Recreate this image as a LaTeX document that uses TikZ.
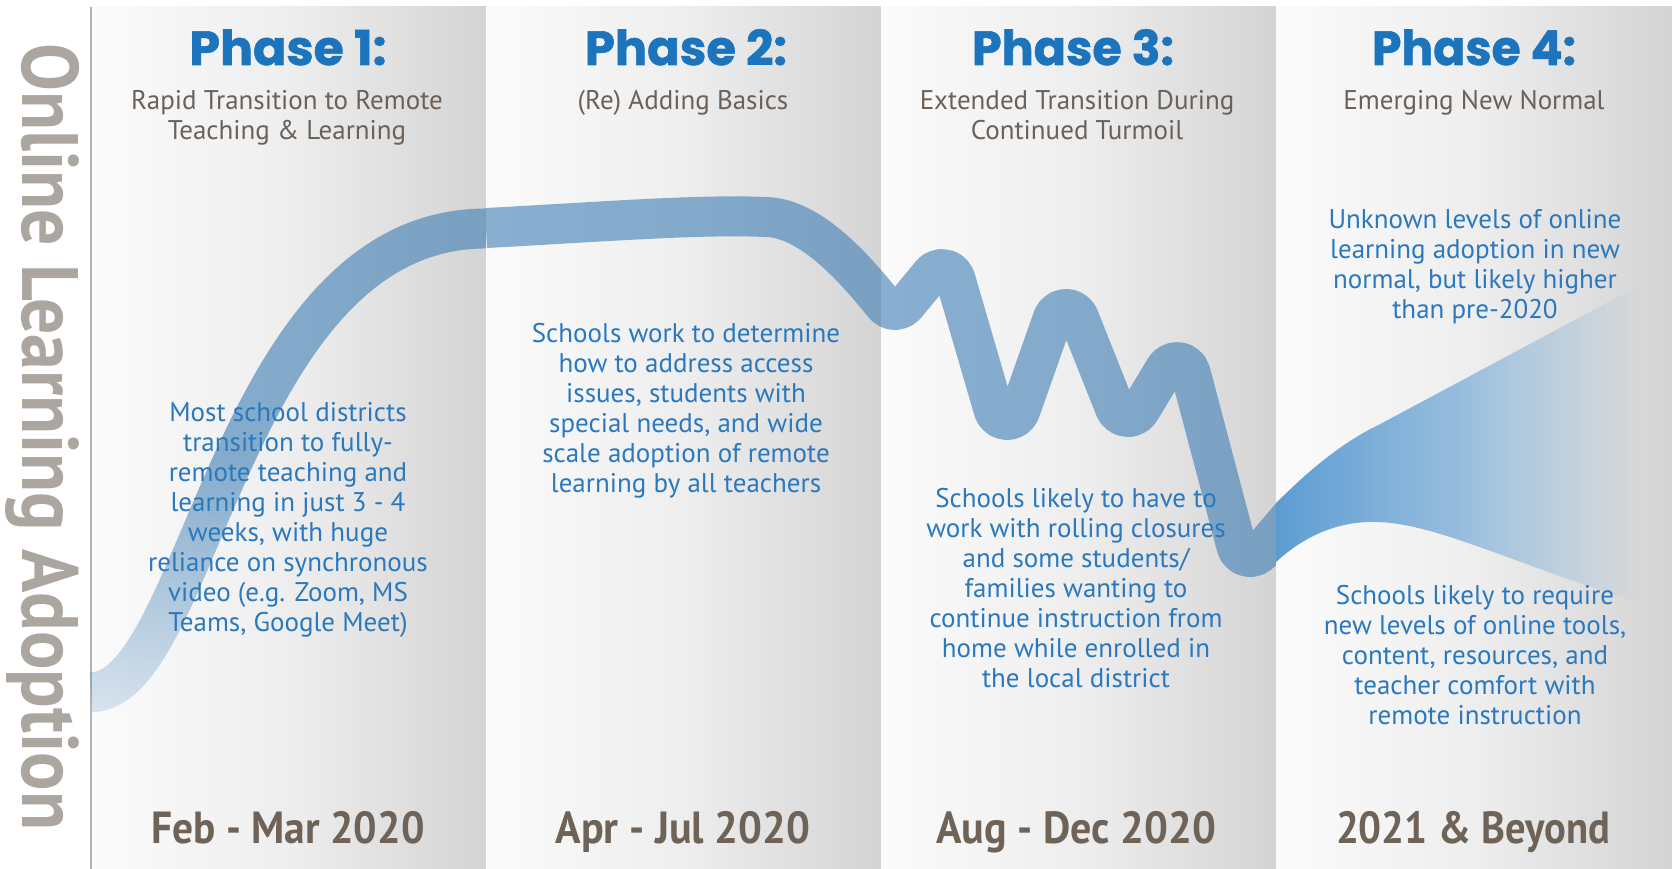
\documentclass[tikz,border=0pt]{standalone}
\usepackage{fontspec}
\usepackage{graphicx}
\usetikzlibrary{fadings}
\setmainfont{PT Sans}
\newfontfamily\headfont[BoldFeatures={FakeBold=1.2}]{Poppins}
\definecolor{headblue}{HTML}{1C74BC}
\definecolor{bodyblue}{HTML}{2A78BE}
\definecolor{subgray}{HTML}{6B6159}
\definecolor{dategray}{HTML}{6F6358}
\definecolor{vgray}{HTML}{ABA69F}
\definecolor{linegray}{HTML}{B4B4B4}
\definecolor{bandblue}{RGB}{60,125,180}
\definecolor{wedgeblue}{HTML}{4F94CF}
\definecolor{panelL}{HTML}{FBFBFB}
\definecolor{panelM}{HTML}{EEEEEE}
\definecolor{panelR}{HTML}{D4D4D4}
\tikzfading[name=bandfade, top color=transparent!0, bottom color=transparent!70, middle color=transparent!0]
\tikzfading[name=wedgefade, left color=transparent!0, right color=transparent!100, middle color=transparent!40]
\begin{document}
\begin{tikzpicture}[x=1pt, y=-1pt,
  panel/.style={left color=panelL, right color=panelR, middle color=panelM, draw=none},
  band/.style={draw=bandblue, line width=40pt, draw opacity=0.6, line cap=butt, line join=round},
  head/.style={font=\headfont\bfseries\fontsize{48}{50}\selectfont, text=headblue, anchor=base, inner sep=0},
  sub/.style={font=\fontsize{27}{30}\selectfont, text=subgray, align=center, inner sep=0},
  body/.style={font=\fontsize{27}{30}\selectfont, text=bodyblue, align=center, inner sep=0},
  date/.style={font=\bfseries\fontsize{45}{50}\selectfont, text=dategray, anchor=base, inner sep=0},
]
\useasboundingbox (0,0) rectangle (1672,869);
\fill[white] (0,0) rectangle (1672,869);
% panels
\path[panel] (91,7) rectangle (486,869);
\path[panel] (486,7) rectangle (881,869);
\path[panel] (881,7) rectangle (1276,869);
\path[panel] (1276,7) rectangle (1672,869);
\draw[linegray, line width=2pt] (91,7) -- (91,869);
% band, phase 1 (faded)
\draw[band, path fading=bandfade] (91,692) .. controls (200,692) and (230,228) .. (486,228);
% band, phases 2-3
\begin{scope}
\clip (486,0) rectangle (1276,869);
\draw[band] (486,228) .. controls (600,222) and (700,214) .. (765,217)
  .. controls (815,217) and (865,282) .. (884.3,305.0)
  arc[start angle=140, end angle=39.5, radius=14]
  -- (931.2,274.1) arc[start angle=-140.5, end angle=-16.25, radius=14]
  -- (993.6,409.9) arc[start angle=163.75, end angle=19.45, radius=14]
  -- (1052.8,318.3) arc[start angle=-160.55, end angle=-21.72, radius=14]
  -- (1115.0,408.2) arc[start angle=158.28, end angle=31.08, radius=14]
  -- (1165.0,368.8) arc[start angle=-148.92, end angle=-14.78, radius=14]
  -- (1236.5,546.6) arc[start angle=165.22, end angle=40, radius=14]
  -- (1300,506);
\end{scope}
% wedge, phase 4
\fill[wedgeblue, fill opacity=0.92, path fading=wedgefade]
  (1276,503) .. controls (1305,474) and (1340,443) .. (1380,424)
  -- (1580,317) -- (1640,285) -- (1640,603) -- (1580,583)
  .. controls (1500,556) and (1430,524) .. (1380,522)
  .. controls (1340,520) and (1305,535) .. (1276,562) -- cycle;
% vertical label
\node[rotate=-90, anchor=base west, inner sep=0, text=vgray, font=\bfseries\fontsize{80}{80}\selectfont] (vlabel) at (23,43) {\resizebox{787pt}{\height}{Online Learning Adoption}};
% headings
\node[head] (h1) at (288,65) {\resizebox{197pt}{\height}{Phase 1:}};
\node[head] (h2) at (686,65) {\resizebox{202pt}{\height}{Phase 2:}};
\node[head] (h3) at (1073,65) {\resizebox{202pt}{\height}{Phase 3:}};
\node[head] (h4) at (1474,65) {\resizebox{204pt}{\height}{Phase 4:}};
% subtitles
\node[sub] (s1) at (287,118) {Rapid Transition to Remote\\Teaching \& Learning};
\node[sub, anchor=base] (s2) at (683,110) {(Re) Adding Basics};
\node[sub] (s3) at (1077,115) {Extended Transition During\\Continued Turmoil};
\node[sub, anchor=base] (s4) at (1474,110) {Emerging New Normal};
% body texts
\node[body] (b1) at (288,520) {Most school districts\\transition to fully-\\remote teaching and\\learning in just 3 - 4\\weeks, with huge\\reliance on synchronous\\video (e.g. Zoom, MS\\Teams, Google Meet)};
\node[body] (b2) at (686,411) {Schools work to determine\\how to address access\\issues, students with\\special needs, and wide\\scale adoption of remote\\learning by all teachers};
\node[body] (b3) at (1076,588) {Schools likely to have to\\work with rolling closures\\and some students/\\families wanting to\\continue instruction from\\home while enrolled in\\the local district};
\node[body] (b4) at (1475,267) {Unknown levels of online\\learning adoption in new\\normal, but likely higher\\than pre-2020};
\node[body] (b5) at (1475,655) {Schools likely to require\\new levels of online tools,\\content, resources, and\\teacher comfort with\\remote instruction};
% dates
\node[date] (d1) at (288,843) {\resizebox{273pt}{\height}{Feb - Mar 2020}};
\node[date] (d2) at (683,843) {\resizebox{255pt}{\height}{Apr - Jul 2020}};
\node[date] (d3) at (1076,843) {\resizebox{280pt}{\height}{Aug - Dec 2020}};
\node[date] (d4) at (1473,843) {\resizebox{274pt}{\height}{2021 \& Beyond}};
\end{tikzpicture}
\end{document}
